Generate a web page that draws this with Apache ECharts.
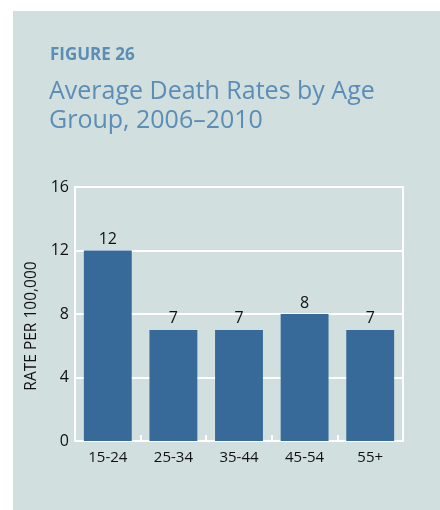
<!DOCTYPE html>
<html>
<head>
<meta charset="utf-8">
<script src="https://cdn.jsdelivr.net/npm/echarts@6/dist/echarts.min.js"></script>
<style>
  html, body { margin: 0; padding: 0; background: #ffffff; }
  #chart { width: 440px; height: 510px; }
</style>
</head>
<body>
<div id="chart"></div>
<script>
// Age groups and their average death rates (per 100,000), 2006–2010
const ageGroups = ['15-24', '25-34', '35-44', '45-54', '55+'];
const deathRates = [12, 7, 7, 8, 7];
const yTicks = [0, 4, 8, 12, 16];

const panelColor = '#d1dfdf';
const barColor = '#376a98';
const titleColor = '#5b8db5';
const font = '"Open Sans", "Noto Sans", sans-serif';

const chart = echarts.init(document.getElementById('chart'), null, { renderer: 'canvas' });

chart.setOption({
  animation: false,
  backgroundColor: '#ffffff',
  graphic: [{
    type: 'rect',
    z: -10,
    shape: { x: 13, y: 11, width: 427, height: 499 },
    style: { fill: panelColor }
  }],
  title: [{
    text: 'FIGURE 26',
    left: 45,
    top: 42,
    padding: 5,
    textStyle: { color: titleColor, fontSize: 17, fontWeight: 'bold', fontFamily: font }
  }, {
    text: 'Average Death Rates by Age\nGroup, 2006–2010',
    left: 44,
    top: 72,
    padding: 5,
    textStyle: { color: titleColor, fontSize: 25, fontWeight: 'normal', fontFamily: font, lineHeight: 29 }
  }],
  grid: {
    left: 75, top: 187, right: 37, bottom: 69,
    show: true, borderColor: '#ffffff', borderWidth: 2, backgroundColor: 'transparent'
  },
  xAxis: {
    type: 'category',
    data: ageGroups,
    axisLine: { lineStyle: { color: '#ffffff', width: 2 } },
    axisTick: { show: true, inside: true, length: 6, lineStyle: { color: '#ffffff', width: 2 } },
    axisLabel: { color: '#111111', fontSize: 15, fontFamily: font, margin: 9 }
  },
  yAxis: {
    type: 'value',
    min: yTicks[0],
    max: yTicks[yTicks.length - 1],
    interval: yTicks[1] - yTicks[0],
    name: 'RATE PER 100,000',
    nameLocation: 'middle',
    nameRotate: 90,
    nameGap: 34,
    nameTextStyle: { color: '#111111', fontSize: 15.5, fontFamily: font, padding: [0, 24, 0, 0] },
    axisLine: { show: true, lineStyle: { color: '#ffffff', width: 2 } },
    axisTick: { show: false },
    splitLine: { lineStyle: { color: '#ffffff', width: 2 } },
    axisLabel: { color: '#111111', fontSize: 16, fontFamily: font, margin: 6 }
  },
  series: [{
    type: 'bar',
    data: deathRates,
    barWidth: '73%',
    itemStyle: { color: barColor },
    label: {
      show: true,
      position: 'top',
      distance: 3,
      color: '#111111',
      fontSize: 16,
      fontFamily: font
    }
  }]
});
</script>
</body>
</html>
